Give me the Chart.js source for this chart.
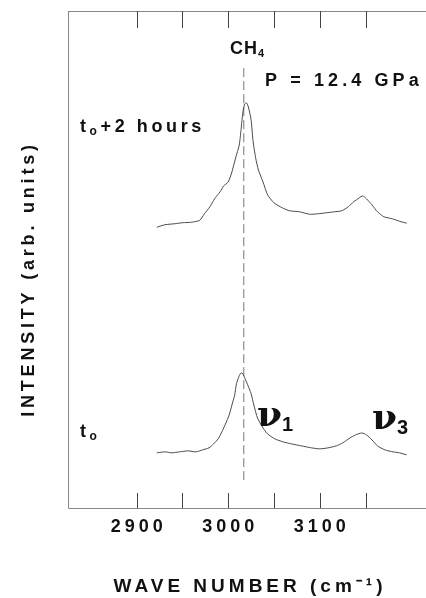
<!DOCTYPE html>
<html>
<head>
<meta charset="utf-8">
<script src="https://cdn.jsdelivr.net/npm/chart.js@4.4.1/dist/chart.umd.min.js"></script>
<style>
  html, body { margin: 0; padding: 0; background: #fff; }
  canvas { display: block; }
</style>
</head>
<body>
<canvas id="ramanChart" width="426" height="598"></canvas>
<script>
// ================= DATOS =================
// numero de onda (cm-1) y intensidad (unid. arb.)

// traza superior: t0 + 2 horas
const waveLater = [2922, 2931, 2942, 2950, 2960, 2969, 2974, 2980, 2985, 2991, 2995, 3000,
  3004, 3008, 3012, 3014, 3016, 3018, 3020, 3022, 3025, 3027, 3030, 3033, 3038, 3043,
  3050, 3059, 3067, 3078, 3089, 3098, 3107, 3116, 3124, 3131, 3137, 3143, 3147, 3151,
  3157, 3163, 3170, 3179, 3187, 3195];
const intensLater = [56.5, 57.0, 57.2, 57.4, 57.5, 57.9, 59.2, 60.6, 62.2, 63.6, 64.8, 65.6,
  67.6, 70.4, 73.0, 76.1, 79.7, 81.3, 81.5, 80.7, 78.1, 74.0, 70.4, 68.0, 65.6, 63.0,
  61.4, 60.4, 59.8, 59.6, 59.1, 59.2, 59.4, 59.6, 59.8, 60.6, 61.6, 62.4, 62.8, 62.2,
  61.0, 59.6, 58.6, 58.2, 57.7, 57.3];

// traza inferior: t0
const waveStart = [2922, 2931, 2938, 2947, 2956, 2965, 2972, 2979, 2984, 2989, 2993, 2997,
  3001, 3004, 3007, 3009, 3012, 3014, 3016, 3018, 3021, 3025, 3028, 3032, 3038, 3043,
  3051, 3060, 3069, 3080, 3091, 3100, 3109, 3118, 3125, 3133, 3139, 3146, 3151, 3157,
  3163, 3171, 3180, 3187, 3195];
const intensStart = [11.1, 11.3, 11.1, 11.3, 11.5, 11.3, 11.7, 12.1, 12.9, 13.9, 15.3, 16.9,
  18.7, 20.7, 22.7, 25.0, 26.6, 27.2, 27.0, 26.2, 24.9, 23.0, 20.7, 18.1, 16.1, 14.9,
  13.9, 13.3, 12.9, 12.5, 12.1, 11.9, 12.1, 12.5, 13.1, 14.1, 14.7, 15.1, 14.7, 13.7,
  12.5, 11.7, 11.3, 11.1, 10.7];

// linea de referencia (nu1 del CH4)
const markerWave = 3017;
const markerSpan = [88.5, 5.2];

// marcas del eje x
const tickValues = [2900, 2950, 3000, 3050, 3100, 3150];
const tickLabels = ["2900", "", "3000", "", "3100", ""];

// ================= FUNCIONES =================

function toPoints(xs, ys) {
  return xs.map((x, i) => ({ x: x, y: ys[i] }));
}

// dibuja texto con sub/superindices
function drawRuns(ctx, x, y, runs, spacing) {
  let cx = x;
  runs.forEach(r => {
    ctx.font = r.font;
    ctx.letterSpacing = (r.ls !== undefined ? r.ls : spacing) + "px";
    ctx.fillText(r.text, cx, y + (r.dy || 0));
    cx += ctx.measureText(r.text).width;
  });
  ctx.letterSpacing = "0px";
}

const SANS = '"Liberation Sans", Arial, sans-serif';
const SERIF = '"DejaVu Serif", "Liberation Serif", serif';

// plugin: marco, marcas, etiquetas y textos
const framePlugin = {
  id: "framePlugin",
  afterDatasetsDraw(chart) {
    const ctx = chart.ctx;
    const a = chart.chartArea;
    const xs = chart.scales.x;
    ctx.save();
    ctx.strokeStyle = "#888";
    ctx.lineWidth = 1;
    ctx.beginPath();
    ctx.moveTo(a.left + 0.5, a.top + 0.5);
    ctx.lineTo(a.right, a.top + 0.5);
    ctx.moveTo(a.left + 0.5, a.top);
    ctx.lineTo(a.left + 0.5, a.bottom + 0.5);
    ctx.lineTo(a.right, a.bottom + 0.5);
    ctx.stroke();

    ctx.strokeStyle = "#444";
    ctx.beginPath();
    tickValues.forEach(v => {
      const px = Math.round(xs.getPixelForValue(v)) + 0.5;
      ctx.moveTo(px, a.bottom);
      ctx.lineTo(px, a.bottom - 15);
      ctx.moveTo(px, a.top);
      ctx.lineTo(px, a.top + 17);
    });
    ctx.stroke();

    ctx.fillStyle = "#111";
    ctx.textBaseline = "alphabetic";
    ctx.textAlign = "center";
    ctx.font = "bold 18px " + SANS;
    ctx.letterSpacing = "4px";
    tickValues.forEach((v, i) => {
      if (!tickLabels[i]) return;
      const px = xs.getPixelForValue(v);
      ctx.fillText(tickLabels[i], px + 2, a.bottom + 24);
    });

    ctx.letterSpacing = "4px";
    ctx.font = "bold 19px " + SANS;
    ctx.fillText("WAVE NUMBER (cm\u207B\u00B9)", 250, 592);

    ctx.save();
    ctx.translate(27, 279);
    ctx.rotate(-Math.PI / 2);
    ctx.font = "bold 18px " + SANS;
    ctx.letterSpacing = "3.8px";
    ctx.fillText("INTENSITY (arb. units)", 0, 7);
    ctx.restore();

    ctx.textAlign = "left";
    drawRuns(ctx, 230, 54, [
      { text: "CH", font: "bold 18px " + SANS },
      { text: "4", font: "bold 11px " + SANS, dy: 3 }
    ], 1);
    drawRuns(ctx, 265, 86, [
      { text: "P = 12.4 GPa", font: "bold 18px " + SANS }
    ], 4.1);
    drawRuns(ctx, 80, 132, [
      { text: "t", font: "bold 18px " + SANS },
      { text: "o", font: "bold 12px " + SANS, dy: 3 },
      { text: "+2 hours", font: "bold 18px " + SANS }
    ], 3.6);
    drawRuns(ctx, 80, 437, [
      { text: "t", font: "bold 18px " + SANS },
      { text: "o", font: "bold 12px " + SANS, dy: 3 }
    ], 3.4);
    drawRuns(ctx, 257, 426, [
      { text: "\u03BD", font: "bold 36px " + SERIF },
      { text: "1", font: "bold 20px " + SANS, dy: 5 }
    ], 0);
    drawRuns(ctx, 372, 429, [
      { text: "\u03BD", font: "bold 36px " + SERIF },
      { text: "3", font: "bold 20px " + SANS, dy: 5 }
    ], 0);
    ctx.restore();
  }
};

// ================= GRAFICA =================
const ctx = document.getElementById("ramanChart").getContext("2d");
new Chart(ctx, {
  type: "line",
  data: {
    datasets: [
      {
        data: toPoints(waveLater, intensLater),
        borderColor: "#4a4a4a",
        borderWidth: 1,
        pointRadius: 0,
        tension: 0.2
      },
      {
        data: toPoints(waveStart, intensStart),
        borderColor: "#4a4a4a",
        borderWidth: 1,
        pointRadius: 0,
        tension: 0.2
      },
      {
        data: toPoints([markerWave, markerWave], markerSpan),
        borderColor: "#777",
        borderWidth: 1,
        borderDash: [9, 4],
        pointRadius: 0
      }
    ]
  },
  options: {
    responsive: false,
    animation: false,
    layout: { padding: { left: 68, top: 11, right: 0, bottom: 90 } },
    plugins: { legend: { display: false }, tooltip: { enabled: false } },
    scales: {
      x: { type: "linear", min: 2825, max: 3216, display: false },
      y: { min: 0, max: 100, display: false }
    }
  },
  plugins: [framePlugin]
});
</script>
</body>
</html>
